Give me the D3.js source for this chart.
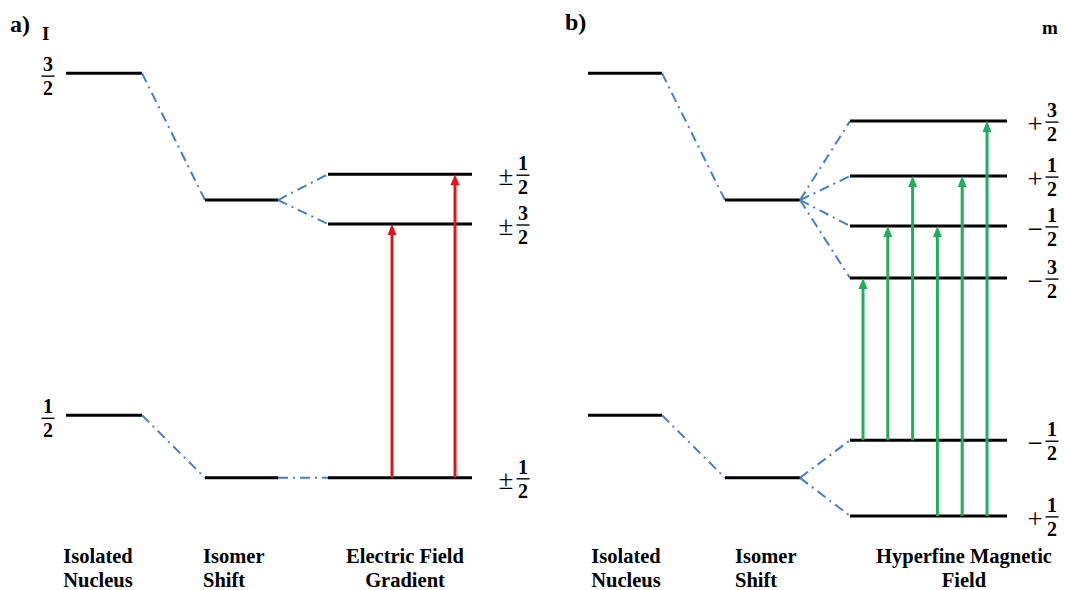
<!DOCTYPE html>
<html><head><meta charset="utf-8">
<script src="https://cdn.jsdelivr.net/npm/d3@7"></script>
<style>body{margin:0;background:#fff}svg{display:block}</style>
</head><body>
<svg id="c" width="1065" height="590"></svg>
<script>
// ---------- data ----------
const panelTags = ["a)", "b)"];
const stageLabelsA = [["Isolated","Nucleus"],["Isomer","Shift"],["Electric Field","Gradient"]];
const stageLabelsB = [["Isolated","Nucleus"],["Isomer","Shift"],["Hyperfine Magnetic","Field"]];
const spinI = [["3","2"],["1","2"]];            // I = 3/2 (excited), 1/2 (ground)
const isolatedE = [97.2, 24.4];                 // energy (arb. units)
const isomerE = [70.2, 11.1];
const efgE = [75.7, 65.1, 11.1];
const efgSign = ["±","±","±"];
const efgFrac = [["1","2"],["3","2"],["1","2"]];
const efgParent = [0, 0, 1];
const efgTransitions = [[2,1],[2,0]];
const hfE = [87.0, 75.3, 64.7, 53.6, 19.1, 3.0];
const hfSign = ["+","+","−","−","−","+"];
const hfFrac = [["3","2"],["1","2"],["1","2"],["3","2"],["1","2"],["1","2"]];
const hfParent = [0,0,0,0,1,1];
const hfTransitions = [[4,3],[4,2],[4,1],[5,2],[5,1],[5,0]];

// ---------- layout ----------
const svg = d3.select("#c");
const y = d3.scaleLinear().domain([0,100]).range([530,60]);
const serif = "'Liberation Serif','Times New Roman',serif";
const blue = "#4a7dbf", red = "#e3151b", green = "#20ad5c";

const panelsLayout = [
  {tag:[10,32], stages:[[66,142],[205,278],[328,472]], sub: stageLabelsA, subX:[98,203,405], subAnchor:["middle","start","middle"],
   E:efgE, sign:efgSign, frac:efgFrac, parent:efgParent, trans:efgTransitions, arrowRange:[392,455], color:red,
   signX:506, fracX:523, leftI:true},
  {tag:[565,30], stages:[[588,662],[725,800],[850,1007]], sub: stageLabelsB, subX:[626,735,964], subAnchor:["middle","start","middle"],
   E:hfE, sign:hfSign, frac:hfFrac, parent:hfParent, trans:hfTransitions, arrowRange:[863,987], color:green,
   signX:1035, fracX:1052, leftI:false}
];

function level(g, x0, x1, yy){
  g.append("line").attr("x1",x0).attr("x2",x1).attr("y1",yy).attr("y2",yy)
    .attr("stroke","#000").attr("stroke-width",3);
}
function dashLink(g, x0, y0, x1, y1){
  g.append("line").attr("x1",x0).attr("y1",y0).attr("x2",x1).attr("y2",y1)
    .attr("stroke",blue).attr("stroke-width",2).attr("stroke-dasharray","10,5,2,5");
}
function frac(g, x, bar, num, den){
  g.append("text").attr("x",x).attr("y",bar-5).attr("text-anchor","middle")
    .attr("font-family",serif).attr("font-weight","bold").attr("font-size",20).text(num);
  g.append("line").attr("x1",x-6.5).attr("x2",x+6.5).attr("y1",bar).attr("y2",bar)
    .attr("stroke","#000").attr("stroke-width",1.4);
  g.append("text").attr("x",x).attr("y",bar+19).attr("text-anchor","middle")
    .attr("font-family",serif).attr("font-weight","bold").attr("font-size",20).text(den);
}
function arrow(g, x, yFrom, yTo, color){
  const hl = 11, hw = 4.5;
  g.append("line").attr("x1",x).attr("x2",x).attr("y1",yFrom).attr("y2",yTo+hl-1)
    .attr("stroke",color).attr("stroke-width",3);
  g.append("path").attr("d",`M${x},${yTo} L${x-hw},${yTo+hl} L${x+hw},${yTo+hl} Z`).attr("fill",color);
}

panelsLayout.forEach((P, pi) => {
  const g = svg.append("g");
  g.append("text").attr("x",P.tag[0]).attr("y",P.tag[1]).attr("font-family",serif)
    .attr("font-weight","bold").attr("font-size",24).text(panelTags[pi]);

  const [s0, s1, s2] = P.stages;
  // isolated + isomer
  isolatedE.forEach((e, i) => {
    level(g, s0[0], s0[1], y(e));
    dashLink(g, s0[1], y(e), s1[0], y(isomerE[i]));
    level(g, s1[0], s1[1], y(isomerE[i]));
    if (P.leftI) frac(g, 48, y(e)+3, spinI[i][0], spinI[i][1]);
  });
  // split levels
  P.E.forEach((e, i) => {
    dashLink(g, s1[1], y(isomerE[P.parent[i]]), s2[0], y(e));
  });
  P.E.forEach((e, i) => {
    level(g, s2[0], s2[1], y(e));
    const bar = y(e) + 1;
    g.append("text").attr("x",P.signX).attr("y", bar + (P.sign[i]==="±" ? 10 : 11)).attr("text-anchor","middle")
      .attr("font-family",serif).attr("font-size",27).text(P.sign[i]);
    frac(g, P.fracX, bar, P.frac[i][0], P.frac[i][1]);
  });
  // transitions
  const ax = d3.scalePoint().domain(d3.range(P.trans.length)).range(P.arrowRange);
  P.trans.forEach(([from, to], k) => arrow(g, ax(k), y(P.E[from]), y(P.E[to]), P.color));

  // stage captions
  P.sub.forEach((lines, k) => {
    lines.forEach((t, li) => {
      g.append("text").attr("x",P.subX[k]).attr("y",563 + li*24).attr("text-anchor",P.subAnchor[k])
        .attr("font-family",serif).attr("font-weight","bold").attr("font-size",20.5).text(t);
    });
  });
});

// axis-like headers
svg.append("text").attr("x",42).attr("y",40).attr("font-family",serif).attr("font-weight","bold")
  .attr("font-size",19).text("I");
svg.append("text").attr("x",1042).attr("y",34).attr("font-family",serif).attr("font-weight","bold")
  .attr("font-size",19).text("m");
</script>
</body></html>
